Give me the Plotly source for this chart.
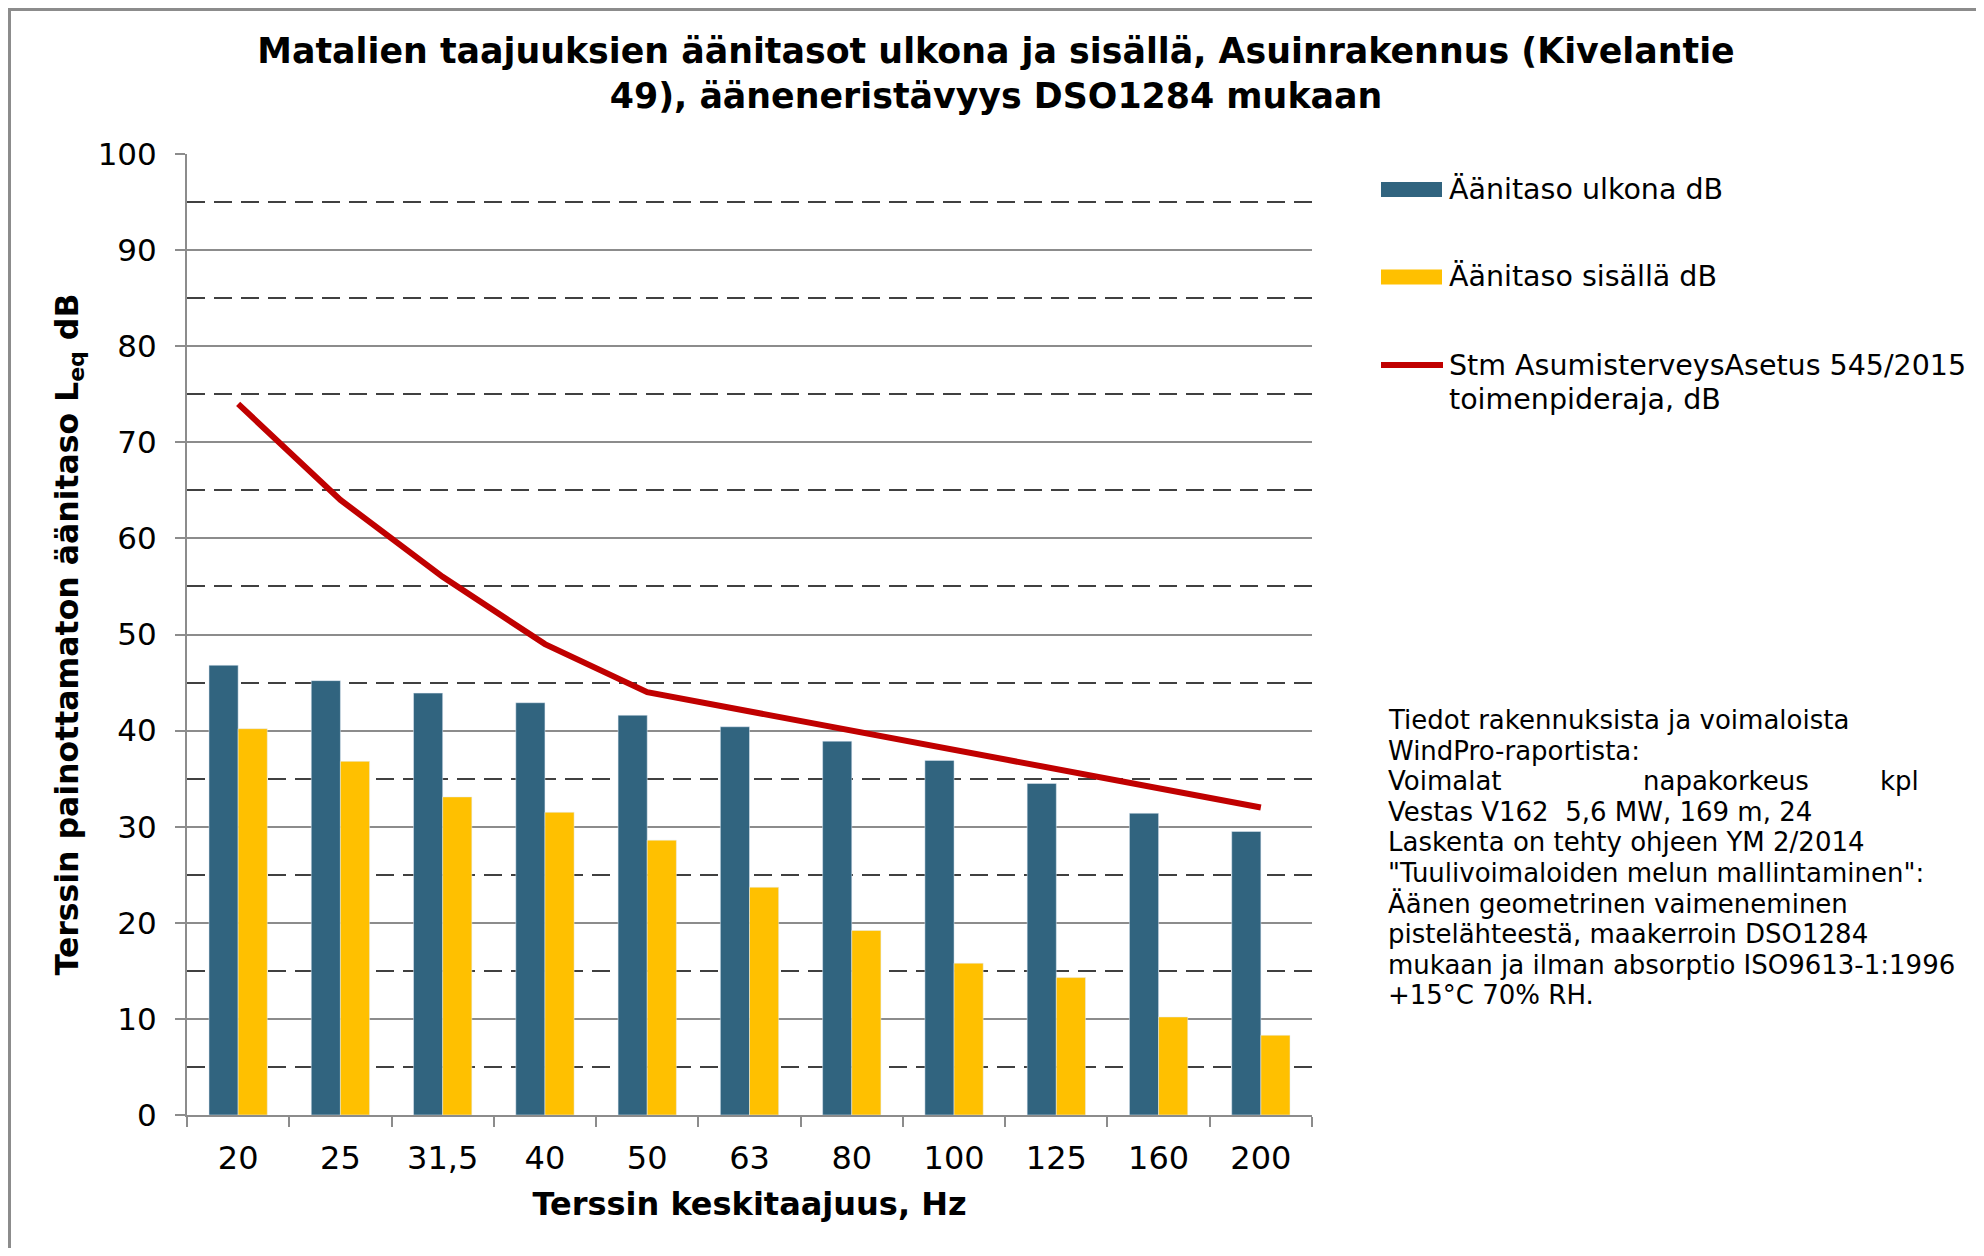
import plotly.graph_objects as go

FONT = 'DejaVu Sans'
# the page body adds 8 px on the top and the left; keep the figure inside the window
OFFSET = 8
FIG_W, FIG_H = 1984 - OFFSET, 1256 - 2 * OFFSET
MARGIN = dict(l=187 - OFFSET, r=672, t=154 - OFFSET, b=133)

freqs = ['20', '25', '31,5', '40', '50', '63', '80', '100', '125', '160', '200']
outdoor = [46.8, 45.2, 43.9, 42.9, 41.6, 40.4, 38.9, 36.9, 34.5, 31.4, 29.5]
indoor = [40.2, 36.8, 33.1, 31.5, 28.6, 23.7, 19.2, 15.8, 14.3, 10.2, 8.3]
# STM 545/2015 action limits
limit = [74, 64, 56, 49, 44, 42, 40, 38, 36, 34, 32]

series = [
    {'name': 'Äänitaso ulkona dB', 'color': '#31647f'},
    {'name': 'Äänitaso sisällä dB', 'color': '#ffc000'},
    {'name': 'Stm AsumisterveysAsetus 545/2015<br>toimenpideraja, dB', 'color': '#c00000'},
]

plot_w = FIG_W - MARGIN['l'] - MARGIN['r']
plot_h = FIG_H - MARGIN['t'] - MARGIN['b']


def px_x(px):
    # screen pixel -> paper coordinate (x)
    return (px - OFFSET - MARGIN['l']) / plot_w


def px_y(py):
    # screen pixel -> paper coordinate (y)
    return (FIG_H - MARGIN['b'] - (py - OFFSET)) / plot_h


fig = go.Figure()
fig.add_trace(go.Bar(x=freqs, y=outdoor, name=series[0]['name'],
                     marker_color=series[0]['color'], showlegend=False))
fig.add_trace(go.Bar(x=freqs, y=indoor, name=series[1]['name'],
                     marker_color=series[1]['color'], showlegend=False))
fig.add_trace(go.Scatter(x=freqs, y=limit, name=series[2]['name'], mode='lines',
                         line={'color': series[2]['color'], 'width': 6},
                         showlegend=False))

fig.update_layout(
    width=FIG_W, height=FIG_H,
    margin=MARGIN,
    paper_bgcolor='white',
    plot_bgcolor='white',
    barmode='group',
    bargap=0.43,
    bargroupgap=0,
    font={'family': FONT, 'color': 'black'},
    title={
        'text': 'Matalien taajuuksien äänitasot ulkona ja sisällä, Asuinrakennus (Kivelantie'
                '<br>49), ääneneristävyys DSO1284 mukaan',
        'font': {'size': 34.8, 'weight': 'bold', 'family': FONT},
        'x': (996 - OFFSET) / FIG_W, 'xref': 'container', 'xanchor': 'center',
        'y': 1 - 55 / FIG_H, 'yref': 'container', 'yanchor': 'top',
    },
)

fig.update_xaxes(
    type='category',
    showline=True, linecolor='#8c8c8c', linewidth=2,
    ticks='outside', tickson='boundaries', ticklen=10, tickcolor='#8c8c8c', tickwidth=2,
    tickfont={'size': 32},
    ticklabelstandoff=14,
    showgrid=False,
    title={'text': 'Terssin keskitaajuus, Hz', 'font': {'size': 32, 'weight': 'bold'}, 'standoff': 16},
)

fig.update_yaxes(
    range=[0, 100], dtick=10,
    showline=True, linecolor='#8c8c8c', linewidth=2,
    ticks='outside', ticklen=10, tickcolor='#8c8c8c', tickwidth=2,
    tickfont={'size': 31},
    ticklabelstandoff=12,
    showgrid=True, gridcolor='#8c8c8c', gridwidth=2,
    zeroline=False,
    minor={'dtick': 5, 'showgrid': True, 'gridcolor': '#404040', 'griddash': '18px,9px',
           'gridwidth': 2, 'ticks': ''},
    title={'text': 'Terssin painottamaton äänitaso L<sub>eq</sub> dB',
           'font': {'size': 31.5, 'weight': 'bold'}, 'standoff': 10},
)

shapes = []
annotations = []


def add_text(text, x, y, size, xanchor='left'):
    annotations.append(dict(text=text, xref='paper', yref='paper',
                            x=px_x(x), y=px_y(y), xanchor=xanchor, yanchor='middle',
                            align='left', showarrow=False, font={'size': size}))


# hand-made legend to get the long swatches
legend_rows = [189.5, 277, 365]
for i, (s, row) in enumerate(zip(series, legend_rows)):
    if i < 2:
        shapes.append(dict(type='rect', xref='paper', yref='paper',
                           x0=px_x(1381), x1=px_x(1442), y0=px_y(row + 7.5), y1=px_y(row - 7.5),
                           fillcolor=s['color'], line={'width': 0}))
    else:
        shapes.append(dict(type='line', xref='paper', yref='paper',
                           x0=px_x(1381), x1=px_x(1443), y0=px_y(row), y1=px_y(row),
                           line={'color': s['color'], 'width': 6}))
    for k, line in enumerate(s['name'].split('<br>')):
        add_text(line, 1447, row + k * 34, 28.5)

info_lines = [
    'Tiedot rakennuksista ja voimaloista',
    'WindPro-raportista:',
    ['Voimalat', 'napakorkeus', 'kpl'],
    'Vestas V162\u00a0\u00a05,6 MW, 169 m, 24',
    'Laskenta on tehty ohjeen YM 2/2014',
    '"Tuulivoimaloiden melun mallintaminen":',
    'Äänen geometrinen vaimeneminen',
    'pistelähteestä, maakerroin DSO1284',
    'mukaan ja ilman absorptio ISO9613-1:1996',
    '+15°C 70% RH.',
]
for i, line in enumerate(info_lines):
    row = 720 + i * 30.6
    if isinstance(line, list):
        # justified row in the original
        for word, x in zip(line, [1386, 1641, 1878]):
            add_text(word, x, row, 26)
    else:
        add_text(line, 1386, row, 26)

# chart area border
shapes.append(dict(type='rect', xref='paper', yref='paper',
                   x0=px_x(9.5), x1=px_x(1981), y0=px_y(1275), y1=px_y(9.5),
                   line={'color': '#8c8c8c', 'width': 3}, fillcolor='rgba(0,0,0,0)', layer='above'))

fig.update_layout(shapes=shapes, annotations=annotations)

fig.write_html('out.html')
